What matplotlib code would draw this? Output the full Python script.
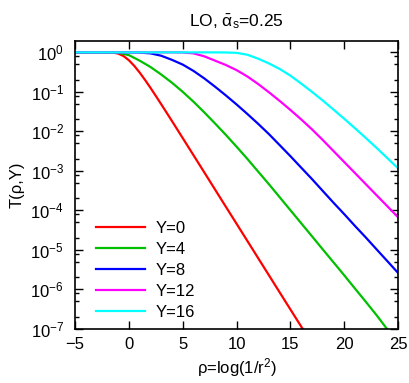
import numpy as np
import matplotlib
matplotlib.use("Agg")
import matplotlib.pyplot as plt
from matplotlib.ticker import LogLocator, NullFormatter, MultipleLocator

plt.rcParams['font.family'] = ['Liberation Sans', 'DejaVu Sans']
plt.rcParams['mathtext.fontset'] = 'custom'
plt.rcParams['mathtext.rm'] = 'Liberation Sans'
plt.rcParams['mathtext.it'] = 'Liberation Sans:italic'
plt.rcParams['mathtext.default'] = 'regular'

# %% data: T(rho, Y) for each rapidity
rho_y0 = [-5, -4, -3, -2, -1.5, -1, -0.5, 0, 0.5, 1, 1.5, 2, 2.5, 3, 4, 5, 6, 7, 8,
          9, 10, 11, 12, 13, 14, 15, 16, 17]
T_y0 = [1, 1, 1, 0.9994, 0.9887, 0.934, 0.808, 0.632, 0.455, 0.308, 0.200, 0.127, 0.0788,
        4.86e-2, 1.82e-2, 6.72e-3, 2.48e-3, 9.12e-4, 3.35e-4, 1.23e-4, 4.54e-5, 1.67e-5,
        6.14e-6, 2.26e-6, 8.3e-7, 3.06e-7, 1.13e-7, 4.1e-8]

rho = list(range(-5, 26))
T_y4 = [1, 1, 1, 0.998, 0.977, 0.851, 0.617, 0.427, 0.275, 0.170, 0.100, 5.62e-2,
        3.02e-2, 1.58e-2, 8.13e-3, 4.07e-3, 2.00e-3, 9.55e-4, 4.57e-4, 2.14e-4, 1.00e-4,
        4.68e-5, 2.19e-5, 1.02e-5, 4.79e-6, 2.24e-6, 1.03e-6, 4.79e-7, 2.19e-7, 9.55e-8,
        4.20e-8]
T_y8 = [1, 1, 1, 1, 1, 1, 0.986, 0.944, 0.822, 0.646, 0.490, 0.339, 0.219, 0.135,
        8.13e-2, 4.79e-2, 2.75e-2, 1.55e-2, 8.51e-3, 4.47e-3, 2.34e-3, 1.20e-3, 6.17e-4,
        3.09e-4, 1.55e-4, 7.94e-5, 3.98e-5, 2.04e-5, 1.02e-5, 5.13e-6, 2.57e-6]
T_y12 = [1, 1, 1, 1, 1, 1, 1, 1, 1, 1, 0.991, 0.944, 0.794, 0.617, 0.479, 0.355, 0.245,
         0.158, 9.77e-2, 5.89e-2, 3.47e-2, 2.00e-2, 1.12e-2, 6.03e-3, 3.16e-3, 1.66e-3,
         8.71e-4, 4.57e-4, 2.40e-4, 1.26e-4, 6.61e-5]
T_y16 = [1, 1, 1, 1, 1, 1, 1, 1, 1, 1, 1, 1, 1, 1, 0.993, 0.973, 0.871, 0.692, 0.525,
         0.380, 0.257, 0.162, 0.100, 6.03e-2, 3.55e-2, 2.07e-2, 1.19e-2, 6.76e-3,
         3.80e-3, 2.09e-3, 1.15e-3]

labels = ['Y=0', 'Y=4', 'Y=8', 'Y=12', 'Y=16']
colors = ['#ff0000', '#00c000', '#0000ff', '#ff00ff', '#00ffff']

# %% plot
fig = plt.figure(figsize=(4.10, 3.83), dpi=100)
ax = fig.add_axes([0.183, 0.142, 0.788, 0.750])

series = [(rho_y0, T_y0), (rho, T_y4), (rho, T_y8), (rho, T_y12), (rho, T_y16)]
for (x, y), lab, c in zip(series, labels, colors):
    ax.plot(x, y, color=c, lw=1.6, label=lab)

ax.set_yscale('log')
ax.set_xlim(-5, 25)
ax.set_ylim(1e-7, 1.9)
ax.xaxis.set_major_locator(MultipleLocator(5))
ax.yaxis.set_major_locator(LogLocator(base=10, numticks=20))
ax.yaxis.set_minor_locator(LogLocator(base=10, subs=[2, 5, 8], numticks=20))
ax.yaxis.set_minor_formatter(NullFormatter())

ax.tick_params(which='both', direction='in', top=True, right=True, labelsize=12, width=1)
ax.tick_params(which='major', length=6)
ax.tick_params(which='minor', length=3)
ax.tick_params(axis='x', pad=6)
ax.tick_params(axis='y', pad=8)
for s in ax.spines.values():
    s.set_linewidth(1.2)

ax.set_xlabel(r'ρ=log(1/r$^2$)', fontsize=12, labelpad=3)
ax.set_ylabel('T(ρ,Y)', fontsize=12, labelpad=4)
ax.set_title(r'LO, $\bar{\alpha}_s$=0.25', fontsize=12.5, pad=11)

ax.legend(loc='lower left', bbox_to_anchor=(0.055, 0.02), frameon=False, fontsize=12,
          handlelength=2.95, handletextpad=0.6, labelspacing=0.36, borderpad=0.2,
          borderaxespad=0)

fig.savefig('out.png', dpi=100)
